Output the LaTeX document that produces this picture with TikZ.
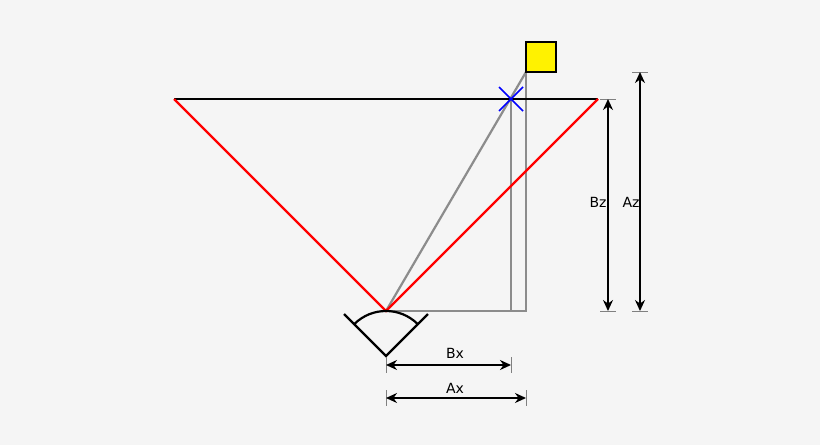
\documentclass[tikz,border=0pt]{standalone}
\usepackage{fontspec}
\setmainfont{DejaVu Sans}
\usetikzlibrary{arrows.meta,calc}
\begin{document}
\begin{tikzpicture}[x=1pt,y=-1pt,
  gr/.style={draw=gray!90,line width=2.2pt},
  dim/.style={black,line width=1.6pt,{Stealth[length=11pt,width=10pt]}-{Stealth[length=11pt,width=10pt]}},
  tick/.style={gray,line width=0.8pt},
  lab/.style={font=\fontsize{14}{16}\selectfont}]
\fill[white!96!black] (0,0) rectangle (820,445);
\useasboundingbox (0,0) rectangle (820,445);
\coordinate (C) at (386,311);
\coordinate (L) at (174,99);
\coordinate (R) at (598,99);
\coordinate (X) at (511,99);
\coordinate (Xb) at (511,311);
\coordinate (Sb) at (526,72);
\coordinate (Sg) at (526,311);
\draw[gr] (C) -- (Sb);
\draw[gr] (X) -- (Xb);
\draw[gr] (Sb) -- (Sg) -- (C);
\draw[black,line width=2.2pt] (L) -- (R);
\draw[red,line width=2.2pt] (L) -- (C) -- (R);
\node[draw=black,line width=2.2pt,fill=yellow,minimum size=30pt,inner sep=0pt] (S) at (541,57) {};
\draw[blue,line width=1.6pt] (499,87) -- (523,111) (499,111) -- (523,87);
% camera
\coordinate (A) at (386,356);
\draw[black,line width=2.2pt] (344,314) -- (A) -- (428,314);
\draw[black,line width=2.2pt] ($(A)+(45:45pt)$) arc[start angle=45,end angle=135,radius=45pt];
% dims
\coordinate (bx1) at (386,365); \coordinate (bx2) at (511,365);
\coordinate (ax1) at (386,398); \coordinate (ax2) at (526,398);
\coordinate (bz1) at (608,99); \coordinate (bz2) at (608,311);
\coordinate (az1) at (640,72); \coordinate (az2) at (640,311);
\draw[tick] (386,357)--(386,373) (511,357)--(511,373) (386,390)--(386,406) (526,390)--(526,406);
\draw[tick] (600,99)--(616,99) (600,311)--(616,311) (632,72)--(648,72) (632,311)--(648,311);
\draw[dim] (bx1) -- (bx2);
\draw[dim] (ax1) -- (ax2);
\draw[dim] (bz1) -- (bz2);
\draw[dim] (az1) -- (az2);
\node[lab] (tbx) at (455,353) {Bx};
\node[lab] (tax) at (455,388) {Ax};
\node[lab] (tbz) at (598,202) {Bz};
\node[lab] (taz) at (631,202) {Az};
\end{tikzpicture}
\end{document}
